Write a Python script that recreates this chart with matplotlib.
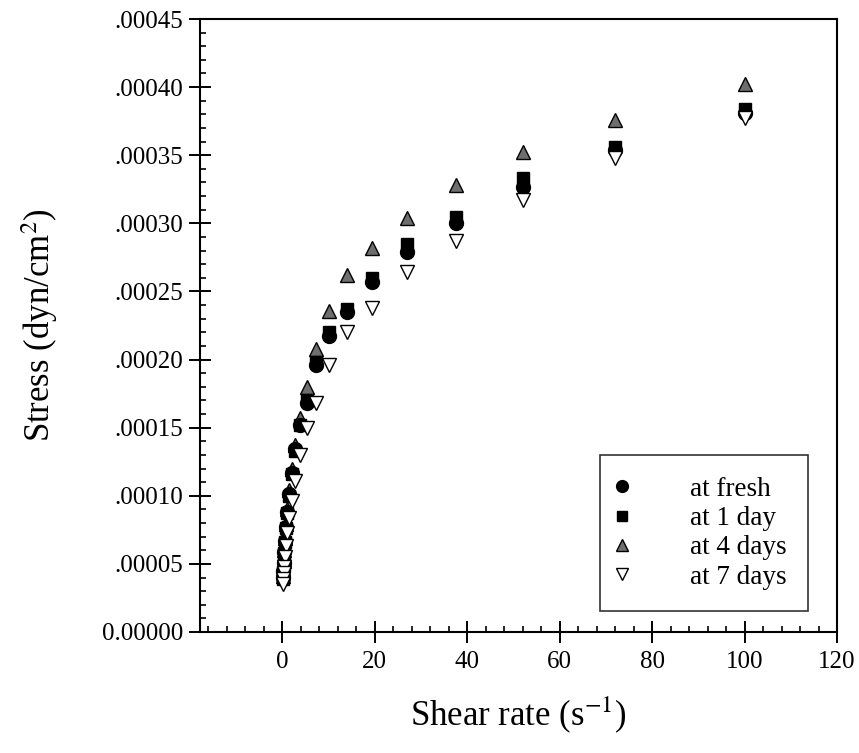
import matplotlib
matplotlib.use("Agg")
import matplotlib.pyplot as plt
from matplotlib.ticker import MultipleLocator, FixedFormatter, FixedLocator

plt.rcParams['font.family'] = ['Liberation Serif', 'DejaVu Serif']
plt.rcParams['mathtext.fontset'] = 'stix'

shear_rate = [100, 72, 52, 37.5, 27, 19.5, 14, 10.2, 7.3, 5.3, 3.8, 2.7, 2.0,
              1.4, 1.0, 0.72, 0.52, 0.37, 0.27, 0.19, 0.14]

stress_fresh = [0.000381, 0.000354, 0.000327, 0.000300, 0.000279, 0.000257,
                0.000235, 0.000217, 0.000196, 0.000168, 0.000152, 0.000134,
                0.000117, 0.000101, 0.000088, 0.000077, 0.000067, 0.000059,
                0.000051, 0.000045, 0.000040]
stress_1day = [0.000384, 0.000356, 0.000333, 0.000305, 0.000285, 0.000260,
               0.000237, 0.000220, 0.000198, 0.000170, 0.000152, 0.000133,
               0.000116, 0.000100, 0.000087, 0.000076, 0.000066, 0.000058,
               0.000050, 0.000044, 0.000039]
stress_4days = [0.000402, 0.000376, 0.000352, 0.000328, 0.000304, 0.000282,
                0.000262, 0.000236, 0.000208, 0.000180, 0.000157, 0.000137,
                0.000120, 0.000104, 0.000090, 0.000079, 0.000069, 0.000060,
                0.000052, 0.000046, 0.000041]
stress_7days = [0.000377, 0.000348, 0.000317, 0.000287, 0.000264, 0.000238,
                0.000220, 0.000196, 0.000168, 0.000150, 0.000130, 0.000111,
                0.000096, 0.000084, 0.000073, 0.000063, 0.000055, 0.000048,
                0.000043, 0.000039, 0.000035]

series_labels = ['at fresh', 'at 1 day', 'at 4 days', 'at 7 days']

x_ticks = [0, 20, 40, 60, 80, 100, 120]
y_ticks = [0.0, 0.00005, 0.00010, 0.00015, 0.00020, 0.00025, 0.00030, 0.00035, 0.00040, 0.00045]
y_tick_labels = ['0.00000', '.00005', '.00010', '.00015', '.00020', '.00025',
                 '.00030', '.00035', '.00040', '.00045']

fig = plt.figure(figsize=(8.59, 7.53), dpi=100)
ax = fig.add_axes([200/859, 1-632/753, (837-200)/859, (632-19)/753])

ms = 10
ax.plot(shear_rate, stress_fresh, linestyle='none', marker='o', ms=ms,
        mfc='black', mec='black', mew=1.0, label=series_labels[0], zorder=3)
ax.plot(shear_rate, stress_1day, linestyle='none', marker='s', ms=ms*0.92,
        mfc='black', mec='black', mew=1.0, label=series_labels[1], zorder=4)
ax.plot(shear_rate, stress_4days, linestyle='none', marker='^', ms=ms,
        mfc='#6e6e6e', mec='black', mew=1.0, label=series_labels[2], zorder=2)
ax.plot(shear_rate, stress_7days, linestyle='none', marker='v', ms=ms,
        mfc='white', mec='black', mew=1.0, label=series_labels[3], zorder=5)

ax.set_xlim(-17.8, 120)
ax.set_ylim(0, 0.00045)

ax.xaxis.set_major_locator(FixedLocator(x_ticks))
ax.xaxis.set_minor_locator(MultipleLocator(4))
ax.yaxis.set_major_locator(FixedLocator(y_ticks))
ax.yaxis.set_major_formatter(FixedFormatter(y_tick_labels))
ax.yaxis.set_minor_locator(MultipleLocator(0.00001))

for s in ax.spines.values():
    s.set_linewidth(1.5)

ax.tick_params(which='major', direction='inout', length=16, width=1.4,
               labelsize=18, pad=4, top=False, right=False)
ax.tick_params(which='minor', direction='in', length=4.5, width=1.2,
               top=False, right=False)
ax.tick_params(axis='x', which='major', pad=6)

ax.set_xlabel('Shear rate (s$^{-1}$)', fontsize=25, labelpad=15)
ax.set_ylabel('Stress (dyn/cm$^{2}$)', fontsize=25, labelpad=30)

leg = ax.legend(loc='upper left', bbox_to_anchor=(600/859, 1-455/753),
                bbox_transform=fig.transFigure, fontsize=19.5,
                frameon=True, fancybox=False, edgecolor='black', borderpad=0.8,
                handletextpad=2.5, labelspacing=0.16, markerscale=0.85,
                handlelength=0.01, borderaxespad=0)
leg.get_frame().set_linewidth(1.2)

fig.savefig('out.png', dpi=100)
